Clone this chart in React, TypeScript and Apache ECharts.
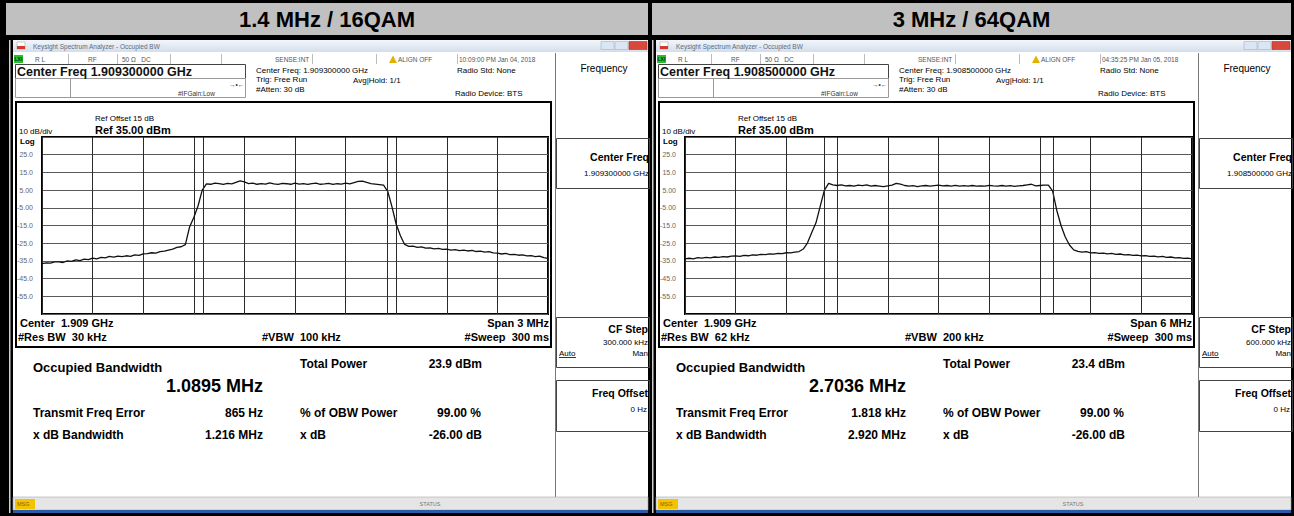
import React, { useEffect, useRef } from 'react';
import * as echarts from 'echarts';

const FONT = '"Liberation Sans", Arial, Helvetica, sans-serif';

// ---------------- data ----------------
const PANEL_TITLES = ['1.4 MHz / 16QAM', '3 MHz / 64QAM'];
const TIMESTAMPS = ['10:09:00 PM Jan 04, 2018', '04:35:25 PM Jan 05, 2018'];
const CENTER_FREQS = ['1.909300000 GHz', '1.908500000 GHz'];
const CENTER_SHORT = 'Center  1.909 GHz';
const SPANS = ['Span 3 MHz', 'Span 6 MHz'];
const RES_BW = ['#Res BW  30 kHz', '#Res BW  62 kHz'];
const VBW = ['#VBW  100 kHz', '#VBW  200 kHz'];
const SWEEP = ['#Sweep  300 ms', '#Sweep  300 ms'];
const CF_STEPS = ['300.000 kHz', '600.000 kHz'];
const OBW_MHZ = [1.0895, 2.7036];
const TOTAL_POWER = ['23.9 dBm', '23.4 dBm'];
const FREQ_ERROR = ['865 Hz', '1.818 kHz'];
const FREQ_ERROR_KHZ = [0.865, 1.818];
const XDB_BW = ['1.216 MHz', '2.920 MHz'];
const OBW_POWER = '99.00 %';
const XDB = '-26.00 dB';
const SPAN_KHZ = [3000, 6000];
const SWEEP_START_KHZ = [-1500, -3000];
const SWEEP_STEP_KHZ = [25, 50];

// trace readings (dBm) at each sweep point
const TRACE_16QAM = [
  -36.6, -36.1, -36.3, -35.6, -35.5, -35.9, -35.0, -35.3, -34.4, -34.8,
  -34.0, -34.3, -33.4, -33.8, -33.0, -33.3, -32.5, -32.9, -32.3, -32.6,
  -32.1, -32.4, -31.6, -31.9, -31.0, -30.9, -30.4, -30.6, -29.8, -29.5,
  -28.9, -28.3, -27.4, -27.0, -25.8, -15.8, -10.5, -4.0, 5.0, 8.5,
  8.3, 8.9, 8.6, 8.2, 8.8, 8.5, 9.4, 10.2, 9.6, 8.7,
  8.9, 8.3, 8.7, 8.4, 9.1, 8.5, 8.2, 8.8, 8.6, 8.3,
  8.9, 8.4, 8.7, 8.2, 8.6, 8.9, 8.3, 8.5, 8.8, 8.2,
  8.6, 8.4, 8.9, 8.5, 9.2, 9.9, 10.1, 9.3, 8.7, 8.4,
  8.1, 7.8, 4.2, -4.5, -14.3, -20.8, -25.7, -26.8, -26.6, -27.4,
  -27.1, -27.8, -27.6, -28.2, -27.9, -28.5, -28.3, -28.9, -28.6, -29.2,
  -28.9, -29.4, -29.1, -29.7, -29.5, -30.0, -29.8, -30.5, -30.6, -31.1,
  -30.8, -31.5, -31.3, -31.8, -31.6, -32.2, -32.0, -32.6, -32.3, -33.2,
  -33.6,
];
const TRACE_64QAM = [
  -33.9, -33.5, -33.8, -33.2, -33.4, -33.0, -33.3, -32.8, -33.0, -32.6,
  -32.8, -32.3, -32.2, -32.5, -31.9, -32.1, -31.6, -31.8, -31.3, -31.5,
  -31.0, -31.2, -30.7, -30.9, -30.4, -30.5, -30.1, -29.7, -28.3, -24.8,
  -19.0, -13.5, -4.2, 5.0, 8.8, 8.0, 7.6, 7.9, 7.4, 7.6,
  7.3, 7.8, 7.5, 7.9, 7.2, 7.6, 7.3, 7.0, 7.4, 7.8,
  8.8, 8.4, 7.6, 7.2, 7.5, 7.0, 7.4, 7.6, 7.2, 7.5,
  7.8, 7.4, 7.6, 7.3, 7.7, 7.2, 7.5, 7.3, 7.6, 7.2,
  7.4, 7.3, 7.7, 7.4, 7.2, 7.6, 7.3, 7.5, 7.1, 7.4,
  7.6, 8.0, 8.3, 7.4, 7.6, 7.8, 7.8, 4.5, -6.5, -15.0,
  -21.5, -26.0, -28.8, -29.6, -30.1, -29.8, -30.5, -30.3, -30.8, -30.6,
  -31.0, -30.8, -31.3, -31.1, -31.6, -31.4, -31.9, -31.7, -32.2, -32.0,
  -32.5, -32.3, -32.7, -32.5, -33.0, -32.8, -33.3, -33.1, -33.6, -33.4,
  -33.8,
];
const TRACES = [TRACE_16QAM, TRACE_64QAM];

const Y_TICKS = [25, 15, 5, -5, -15, -25, -35, -45, -55];
const Y_TICK_LABELS = ['25.0', '15.0', '5.00', '-5.00', '-15.0', '-25.0', '-35.0', '-45.0', '-55.0'];
const REF_LEVEL = 35;
const BOTTOM_LEVEL = -65;
const DB_PER_DIV = 10;

// ---------------- layout ----------------
const PANEL_DX = [0, 643];
const GRID_LEFT = [42, 685];
const GRID_WIDTH = [506, 507];
const GRID_TOP = 137;
const GRID_HEIGHT = 177;

function txt(text: string, x: number, y: number, size: number, o: any = {}) {
  return {
    type: 'text',
    z: 30,
    x,
    y,
    style: {
      text,
      fontSize: size,
      fontWeight: o.bold ? 'bold' : 'normal',
      fontFamily: FONT,
      fill: o.fill ?? '#000',
      textAlign: o.align ?? 'left',
      textVerticalAlign: 'middle',
    },
  };
}
function rect(x: number, y: number, w: number, h: number, fill: any, stroke?: string, lw = 1, z = -20) {
  const style: any = { fill };
  if (stroke) {
    style.stroke = stroke;
    style.lineWidth = lw;
  }
  return { type: 'rect', z, shape: { x, y, width: w, height: h }, style };
}
function line(x1: number, y1: number, x2: number, y2: number, stroke: string, lw = 1, z = -15) {
  return { type: 'line', z, shape: { x1, y1, x2, y2 }, style: { stroke, lineWidth: lw } };
}

function panelEls(i: number) {
  const d = PANEL_DX[i];
  const X = (x: number) => x + d;
  const els: any[] = [];
  const small = '#555';

  // screenshot frame
  els.push(rect(X(9), 40, 1.5, 473, '#cfcfcf', undefined, 1, -25));
  els.push(rect(X(13), 40, 635, 473, '#ffffff', undefined, 1, -25));

  // window title bar
  els.push(
    rect(
      X(13), 40, 635, 12,
      new echarts.graphic.LinearGradient(0, 0, 0, 1, [
        { offset: 0, color: '#f3f6fb' },
        { offset: 1, color: '#d3deec' },
      ]),
      undefined, 1, -19,
    ),
  );
  els.push(rect(X(17), 42, 8, 7, '#ffffff', '#999', 0.5, -18));
  els.push(rect(X(17), 46, 8, 3, '#cf3a2b', undefined, 1, -17));
  els.push(txt('Keysight Spectrum Analyzer - Occupied BW', X(33), 46.5, 6.5, { fill: '#5d6b80' }));
  els.push(rect(X(601), 41.5, 13, 8, '#dbe6f3', '#9fb3cc', 0.6, -18));
  els.push(rect(X(615), 41.5, 13, 8, '#dbe6f3', '#9fb3cc', 0.6, -18));
  els.push(rect(X(629), 41.5, 18, 8, '#d8493b', '#a63328', 0.6, -18));

  // status row
  els.push(rect(X(14), 55, 9, 8, '#25c025', undefined, 1, -18));
  els.push(txt('LXI', X(14.5), 59, 5, { bold: true, fill: '#033' }));
  els.push(txt('R L', X(35), 59.5, 6.5, { fill: small }));
  els.push(txt('RF', X(88), 59.5, 6.5, { fill: small }));
  els.push(txt('50 \u03A9   DC', X(122), 59.5, 6.5, { fill: small }));
  els.push(txt('SENSE:INT', X(275), 59.5, 6.5, { fill: small }));
  els.push({
    type: 'polygon', z: -10,
    shape: { points: [[X(389), 63], [X(393), 55.5], [X(397), 63]] },
    style: { fill: '#e3b100' },
  });
  els.push(txt('ALIGN OFF', X(398), 59.5, 6.5, { fill: small }));
  els.push(txt(TIMESTAMPS[i], X(459), 59.5, 6.5, { fill: small }));
  [68, 117, 170, 221, 312, 376, 457].forEach((x) => els.push(line(X(x) + 0.5, 54, X(x) + 0.5, 64, '#bdbdbd', 1)));

  // center freq box and header info
  els.push(rect(X(15.5), 64.5, 230, 14, '#fff', '#444', 1, -14));
  els.push(txt('Center Freq ' + CENTER_FREQS[i], X(17), 72, 12.5, { bold: true, fill: '#111' }));
  els.push(rect(X(15.5), 78.5, 230, 19, '#fff', '#9a9a9a', 1, -14));
  els.push(line(X(70.5), 79, X(70.5), 97, '#9a9a9a', 1, -13));
  els.push(txt('#IFGain:Low', X(178), 93, 6.5, { fill: '#333' }));
  els.push(txt('\u2192\u2022\u2190', X(229), 84, 6.5, { fill: '#333' }));
  els.push(txt('Center Freq: ' + CENTER_FREQS[i], X(256), 70, 8));
  els.push(txt('Trig: Free Run', X(256), 79.5, 8));
  els.push(txt('Avg|Hold: 1/1', X(353), 80, 8));
  els.push(txt('#Atten: 30 dB', X(256), 89, 8));
  els.push(txt('Radio Std: None', X(457), 70, 8));
  els.push(txt('Radio Device: BTS', X(455), 93, 8));

  // graph box
  els.push(rect(X(16), 102, 535, 245, '#fff', '#000', 2, -12));
  els.push(txt('Ref Offset 15 dB', X(95), 118, 8));
  els.push(txt('10 dB/div', X(19), 131, 8));
  els.push(txt('Ref ' + REF_LEVEL.toFixed(2) + ' dBm', X(95), 129.5, 11, { bold: true }));
  els.push(txt('Log', X(20), 141, 8, { bold: true }));
  els.push(txt(CENTER_SHORT, X(20), 323, 11, { bold: true }));
  els.push(txt(SPANS[i], X(549), 323, 11, { bold: true, align: 'right' }));
  els.push(txt(RES_BW[i], X(18), 337, 11, { bold: true }));
  els.push(txt(VBW[i], X(262), 337, 11, { bold: true }));
  els.push(txt(SWEEP[i], X(549), 337, 11, { bold: true, align: 'right' }));

  // results
  els.push(txt('Occupied Bandwidth', X(33), 367, 13, { bold: true }));
  els.push(txt(OBW_MHZ[i].toFixed(4) + ' MHz', X(263), 386, 18, { bold: true, align: 'right' }));
  els.push(txt('Total Power', X(300), 364, 12, { bold: true }));
  els.push(txt(TOTAL_POWER[i], X(482), 364, 12, { bold: true, align: 'right' }));
  els.push(txt('Transmit Freq Error', X(33), 413, 12, { bold: true }));
  els.push(txt(FREQ_ERROR[i], X(263), 413, 12, { bold: true, align: 'right' }));
  els.push(txt('% of OBW Power', X(300), 413, 12, { bold: true }));
  els.push(txt(OBW_POWER, X(481), 413, 12, { bold: true, align: 'right' }));
  els.push(txt('x dB Bandwidth', X(33), 435, 12, { bold: true }));
  els.push(txt(XDB_BW[i], X(263), 435, 12, { bold: true, align: 'right' }));
  els.push(txt('x dB', X(300), 435, 12, { bold: true }));
  els.push(txt(XDB, X(482), 435, 12, { bold: true, align: 'right' }));

  // soft key menu
  els.push(line(X(555.5), 53, X(555.5), 497, '#777', 1, -11));
  els.push(txt('Frequency', X(604), 68, 10, { align: 'center' }));
  els.push(rect(X(556.5), 138.5, 93, 50, 'rgba(0,0,0,0)', '#444', 1, -11));
  els.push(txt('Center Freq', X(649), 157, 10.5, { bold: true, align: 'right' }));
  els.push(txt(CENTER_FREQS[i], X(649), 173, 8, { align: 'right' }));
  els.push(rect(X(556.5), 317.5, 93, 50, 'rgba(0,0,0,0)', '#444', 1, -11));
  els.push(txt('CF Step', X(648), 329, 10.5, { bold: true, align: 'right' }));
  els.push(txt(CF_STEPS[i], X(648), 342, 8, { align: 'right' }));
  els.push(txt('Auto', X(559), 353, 8));
  els.push(line(X(559), 357.5, X(576), 357.5, '#000', 0.8, 31));
  els.push(txt('Man', X(648), 353, 8, { align: 'right' }));
  els.push(rect(X(556.5), 380.5, 93, 51, 'rgba(0,0,0,0)', '#444', 1, -11));
  els.push(txt('Freq Offset', X(648), 393, 10.5, { bold: true, align: 'right' }));
  els.push(txt('0 Hz', X(647), 409, 8, { align: 'right' }));

  // status bar
  els.push(rect(X(13), 497, 635, 13, '#e5e5e5', '#a8a8a8', 0.6, -11));
  els.push(rect(X(15), 499, 20, 10, '#f3c300', undefined, 1, -10));
  els.push(txt('MSG', X(17), 504, 5.5, { fill: '#8a6000' }));
  els.push(txt('STATUS', X(430), 504, 5.5, { fill: '#777', align: 'center' }));
  els.push(rect(X(13), 510, 635, 3, '#2a5aa8', undefined, 1, -10));
  return els;
}

function buildOption() {
  const graphics: any[] = [
    rect(6, 3, 642, 32, '#c0c0c0', undefined, 1, -30),
    rect(652, 3, 639, 32, '#c0c0c0', undefined, 1, -30),
    txt(PANEL_TITLES[0], 327, 19.5, 22, { bold: true, align: 'center' }),
    txt(PANEL_TITLES[1], 971.5, 19.5, 22, { bold: true, align: 'center' }),
    ...panelEls(0),
    ...panelEls(1),
  ];

  const idx = [0, 1];
  return {
    animation: false,
    backgroundColor: '#000',
    grid: idx.map((i) => ({
      left: GRID_LEFT[i],
      top: GRID_TOP,
      width: GRID_WIDTH[i],
      height: GRID_HEIGHT,
      show: true,
      backgroundColor: '#fff',
      borderColor: '#000',
      borderWidth: 2,
    })),
    xAxis: idx.map((i) => ({
      gridIndex: i,
      type: 'value',
      min: -SPAN_KHZ[i] / 2,
      max: SPAN_KHZ[i] / 2,
      interval: SPAN_KHZ[i] / 10,
      axisLine: { show: false },
      axisTick: { show: false },
      axisLabel: { show: false },
      splitLine: { show: true, lineStyle: { color: '#2a2a2a', width: 1 } },
    })),
    yAxis: idx.map((i) => ({
      gridIndex: i,
      type: 'value',
      min: BOTTOM_LEVEL,
      max: REF_LEVEL,
      interval: DB_PER_DIV,
      axisLine: { show: false },
      axisTick: { show: false },
      axisLabel: {
        fontSize: 7,
        color: '#666',
        fontFamily: FONT,
        margin: 9,
        formatter: (v: number) => {
          const k = Y_TICKS.indexOf(Math.round(v));
          return k >= 0 ? Y_TICK_LABELS[k] : '';
        },
      },
      splitLine: { show: true, lineStyle: { color: '#5a5a5a', width: 1 } },
    })),
    series: idx.map((i) => ({
      type: 'line',
      xAxisIndex: i,
      yAxisIndex: i,
      showSymbol: false,
      symbol: 'none',
      lineStyle: { color: '#111', width: 1.3 },
      data: TRACES[i].map((v, k) => [SWEEP_START_KHZ[i] + k * SWEEP_STEP_KHZ[i], v]),
      markLine: {
        silent: true,
        symbol: 'none',
        label: { show: false },
        lineStyle: { color: '#2a2a2a', width: 1, type: 'solid' },
        data: [
          { xAxis: -(OBW_MHZ[i] * 1000) / 2 + FREQ_ERROR_KHZ[i] },
          { xAxis: (OBW_MHZ[i] * 1000) / 2 + FREQ_ERROR_KHZ[i] },
        ],
      },
    })),
    graphic: { elements: graphics },
  };
}

export default function App() {
  const ref = useRef<HTMLDivElement>(null);
  useEffect(() => {
    const chart = echarts.init(ref.current!, null, { renderer: 'svg' });
    chart.setOption(buildOption() as any);
    return () => chart.dispose();
  }, []);
  return (
    <div
      ref={ref}
      style={{ position: 'fixed', left: 0, top: 0, width: 1294, height: 516 }}
    />
  );
}
